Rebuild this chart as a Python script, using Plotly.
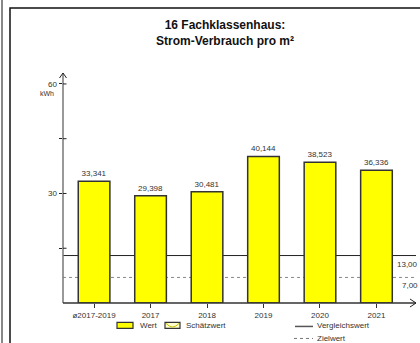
import plotly.graph_objects as go

categories = ["ø2017-2019", "2017", "2018", "2019", "2020", "2021"]
values = [33.341, 29.398, 30.481, 40.144, 38.523, 36.336]
vergleichswert = 13.0
zielwert = 7.0
y_tickvals = [15, 30, 45, 60]
y_ticktext = ["", "30", "", "60"]

W, H = 420, 343
L, R = 63, 416          # plot area px
T, B = 73, 302.6
FONT = "Liberation Sans, Arial, sans-serif"

def px(x):
    return (x - L) / (R - L)

def py(y):
    return (B - y) / (B - T)

def fmt(v):
    return f"{v:.3f}".replace(".", ",")

fig = go.Figure()
fig.add_trace(go.Bar(
    x=list(range(len(categories))), y=values, width=0.56,
    marker=dict(color="#FFFF00", line=dict(color="#333333", width=1.5)),
    text=[fmt(v) for v in values], textposition="outside",
    textfont=dict(family=FONT, size=8, color="#333333"),
    cliponaxis=False, showlegend=False, hoverinfo="skip",
))

shapes = []
annotations = []

# reference lines (behind bars)
shapes.append(dict(type="line", xref="x domain", yref="y", x0=0, x1=1,
                   y0=vergleichswert, y1=vergleichswert, layer="below",
                   line=dict(color="#222222", width=1)))
shapes.append(dict(type="line", xref="x domain", yref="y", x0=0, x1=1,
                   y0=zielwert, y1=zielwert, layer="below",
                   line=dict(color="#888888", width=1, dash="dot")))
for v in (vergleichswert, zielwert):
    annotations.append(dict(xref="paper", yref="y", x=px(420), y=v, yshift=-2,
                            text=f"{v:.2f}".replace(".", ","), showarrow=False,
                            xanchor="right", yanchor="top",
                            font=dict(family=FONT, size=8, color="#333333")))

# y axis line + arrow
shapes.append(dict(type="line", xref="paper", yref="paper", x0=px(63), x1=px(63),
                   y0=py(B), y1=py(73), line=dict(color="#777777", width=1.5)))
shapes.append(dict(type="path", xref="paper", yref="paper",
                   path=f"M {px(59.5)},{py(78)} L {px(63)},{py(73)} L {px(66.5)},{py(78)}",
                   line=dict(color="#222222", width=1)))
# y inner ticks
for tv in y_tickvals:
    shapes.append(dict(type="line", xref="paper", yref="y", x0=px(63), x1=px(66.5),
                       y0=tv, y1=tv, line=dict(color="#222222", width=1)))
# x axis line + arrow
shapes.append(dict(type="line", xref="paper", yref="paper", x0=px(63), x1=px(416),
                   y0=py(B), y1=py(B), line=dict(color="#333333", width=1.5)))
shapes.append(dict(type="path", xref="paper", yref="paper",
                   path=f"M {px(410)},{py(B-4)} L {px(416)},{py(B)} L {px(410)},{py(B+4)}",
                   line=dict(color="#222222", width=1)))

# frame
shapes.append(dict(type="rect", xref="paper", yref="paper", x0=px(10), x1=px(430),
                   y0=py(8), y1=py(360), line=dict(color="#111111", width=1.5)))
shapes.append(dict(type="line", xref="paper", yref="paper", x0=px(2), x1=px(2),
                   y0=py(-5), y1=py(360), line=dict(color="#888888", width=2)))

# kWh label
annotations.append(dict(xref="paper", yref="paper", x=px(56), y=py(93), text="kWh",
                        showarrow=False, xanchor="right", yanchor="middle",
                        font=dict(family=FONT, size=7, color="#333333")))

# title
annotations.append(dict(xref="paper", yref="paper", x=px(225), y=py(33.5),
                        text="<b>16 Fachklassenhaus:<br>Strom-Verbrauch pro m²</b>",
                        showarrow=False, xanchor="center", yanchor="middle",
                        font=dict(family=FONT, size=12, color="#111111")))

# legend
shapes.append(dict(type="rect", xref="paper", yref="paper", x0=px(117), x1=px(133),
                   y0=py(322), y1=py(328), fillcolor="#FFFF00",
                   line=dict(color="#333333", width=1.2)))
shapes.append(dict(type="rect", xref="paper", yref="paper", x0=px(165), x1=px(180),
                   y0=py(322), y1=py(328), fillcolor="#FFFFD0",
                   line=dict(color="#333333", width=1.2)))
shapes.append(dict(type="path", xref="paper", yref="paper",
                   path=f"M {px(166)},{py(323)} Q {px(172.5)},{py(330)} {px(179)},{py(323)}",
                   line=dict(color="#C8C000", width=1)))
shapes.append(dict(type="line", xref="paper", yref="paper", x0=px(295), x1=px(313),
                   y0=py(326), y1=py(326), line=dict(color="#555555", width=1.5)))
shapes.append(dict(type="line", xref="paper", yref="paper", x0=px(294), x1=px(313),
                   y0=py(338), y1=py(338), line=dict(color="#777777", width=1, dash="dot")))
for x, y, t in [(138, 325.5, "Wert"), (184, 325.5, "Schätzwert"),
                (315, 325.5, "Vergleichswert"), (315, 338, "Zielwert")]:
    annotations.append(dict(xref="paper", yref="paper", x=px(x), y=py(y), text=t,
                            showarrow=False, xanchor="left", yanchor="middle",
                            font=dict(family=FONT, size=8, color="#333333")))

fig.update_layout(
    width=W, height=H,
    margin=dict(l=L, r=W - R, t=T, b=H - B, pad=0),
    paper_bgcolor="white", plot_bgcolor="white",
    showlegend=False,
    xaxis=dict(range=[-0.55, 5.70], tickvals=list(range(len(categories))),
               ticktext=categories, showgrid=False, zeroline=False, showline=False,
               ticks="outside", ticklen=4, tickcolor="#333333",
               tickfont=dict(family=FONT, size=8, color="#333333"), fixedrange=True),
    yaxis=dict(range=[0, 63], tickvals=y_tickvals, ticktext=y_ticktext,
               showgrid=False, zeroline=False, showline=False,
               ticks="outside", ticklen=3.5, tickcolor="#222222",
               tickfont=dict(family=FONT, size=8, color="#333333"), fixedrange=True),
    shapes=shapes, annotations=annotations,
)

fig.write_html("out.html", config={"displayModeBar": False},
               post_script="document.body.style.margin='0';document.body.style.overflow='hidden';")
